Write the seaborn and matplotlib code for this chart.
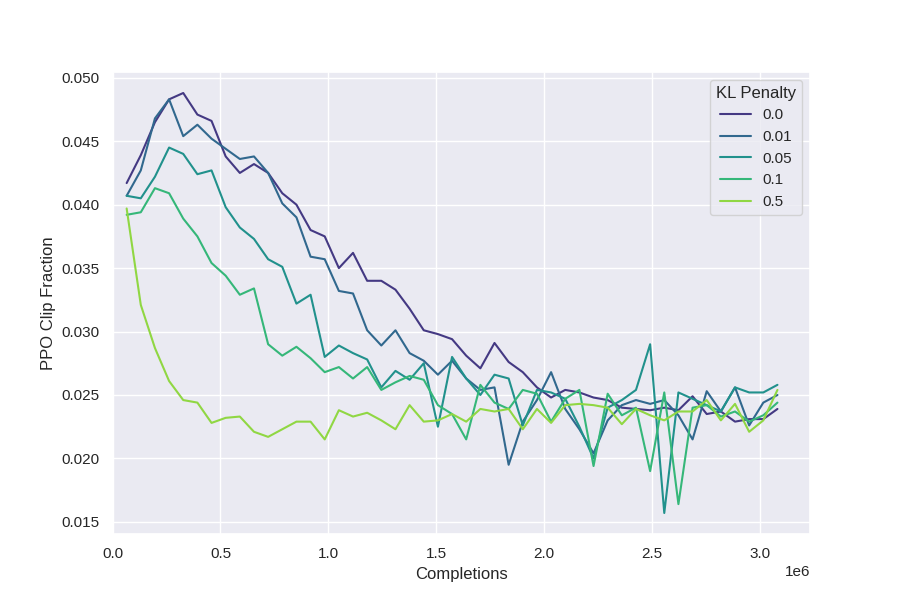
import pandas as pd
import matplotlib.pyplot as plt
import seaborn as sns

# Completions at each logging step
completions = [65536, 131072, 196608, 262144, 327680, 393216, 458752, 524288,
               589824, 655360, 720896, 786432, 851968, 917504, 983040, 1048576,
               1114112, 1179648, 1245184, 1310720, 1376256, 1441792, 1507328,
               1572864, 1638400, 1703936, 1769472, 1835008, 1900544, 1966080,
               2031616, 2097152, 2162688, 2228224, 2293760, 2359296, 2424832,
               2490368, 2555904, 2621440, 2686976, 2752512, 2818048, 2883584,
               2949120, 3014656, 3080192]

# PPO clip fraction per KL penalty
kl_0_0 = [0.0417, 0.0439, 0.0465, 0.0483, 0.0488, 0.0471, 0.0466, 0.0438,
          0.0425, 0.0432, 0.0425, 0.0409, 0.0400, 0.0380, 0.0375, 0.0350,
          0.0362, 0.0340, 0.0340, 0.0333, 0.0318, 0.0301, 0.0298, 0.0294,
          0.0281, 0.0271, 0.0291, 0.0276, 0.0268, 0.0256, 0.0248, 0.0254,
          0.0252, 0.0248, 0.0246, 0.0240, 0.0239, 0.0238, 0.0240, 0.0238,
          0.0249, 0.0235, 0.0237, 0.0229, 0.0231, 0.0231, 0.0239]
kl_0_01 = [0.0407, 0.0427, 0.0468, 0.0483, 0.0454, 0.0463, 0.0452, 0.0444,
           0.0436, 0.0438, 0.0425, 0.0401, 0.0390, 0.0359, 0.0357, 0.0332,
           0.0330, 0.0301, 0.0289, 0.0301, 0.0283, 0.0277, 0.0266, 0.0277,
           0.0263, 0.0254, 0.0256, 0.0195, 0.0229, 0.0246, 0.0268, 0.0239,
           0.0223, 0.0204, 0.0230, 0.0242, 0.0246, 0.0243, 0.0246, 0.0234,
           0.0215, 0.0253, 0.0237, 0.0256, 0.0226, 0.0244, 0.0250]
kl_0_05 = [0.0407, 0.0405, 0.0422, 0.0445, 0.0440, 0.0424, 0.0427, 0.0398,
           0.0382, 0.0373, 0.0357, 0.0351, 0.0322, 0.0329, 0.0280, 0.0289,
           0.0283, 0.0278, 0.0256, 0.0269, 0.0262, 0.0275, 0.0225, 0.0280,
           0.0263, 0.0250, 0.0266, 0.0263, 0.0226, 0.0254, 0.0252, 0.0247,
           0.0225, 0.0200, 0.0240, 0.0246, 0.0254, 0.0290, 0.0157, 0.0252,
           0.0247, 0.0242, 0.0237, 0.0256, 0.0252, 0.0252, 0.0258]
kl_0_1 = [0.0392, 0.0394, 0.0413, 0.0409, 0.0389, 0.0375, 0.0354, 0.0344,
          0.0329, 0.0334, 0.0290, 0.0281, 0.0288, 0.0279, 0.0268, 0.0272,
          0.0263, 0.0272, 0.0254, 0.0260, 0.0265, 0.0262, 0.0242, 0.0235,
          0.0215, 0.0258, 0.0244, 0.0239, 0.0254, 0.0251, 0.0229, 0.0247,
          0.0254, 0.0194, 0.0251, 0.0234, 0.0240, 0.0190, 0.0252, 0.0164,
          0.0240, 0.0242, 0.0233, 0.0237, 0.0229, 0.0234, 0.0244]
kl_0_5 = [0.0397, 0.0321, 0.0287, 0.0261, 0.0246, 0.0244, 0.0228, 0.0232,
          0.0233, 0.0221, 0.0217, 0.0223, 0.0229, 0.0229, 0.0215, 0.0238,
          0.0233, 0.0236, 0.0230, 0.0223, 0.0242, 0.0229, 0.0230, 0.0235,
          0.0229, 0.0239, 0.0237, 0.0239, 0.0223, 0.0239, 0.0228, 0.0242,
          0.0243, 0.0242, 0.0240, 0.0227, 0.0239, 0.0234, 0.0230, 0.0237,
          0.0237, 0.0246, 0.0230, 0.0243, 0.0221, 0.0230, 0.0254]

penalties = ["0.0", "0.01", "0.05", "0.1", "0.5"]
series = [kl_0_0, kl_0_01, kl_0_05, kl_0_1, kl_0_5]

# Long-form table for seaborn
frames = []
for name, vals in zip(penalties, series):
    frames.append(pd.DataFrame({"Completions": completions,
                                "PPO Clip Fraction": vals,
                                "KL Penalty": name}))
df = pd.concat(frames, ignore_index=True)

sns.set_theme(style="darkgrid")
plt.rcParams["font.family"] = ["Liberation Sans", "DejaVu Sans"]

plt.figure(figsize=(9, 6), dpi=100)
ax = sns.lineplot(data=df, x="Completions", y="PPO Clip Fraction",
                  hue="KL Penalty", hue_order=penalties, palette="viridis")
ax.set_xlim(left=0)
ax.legend(title="KL Penalty", loc="upper right")
plt.savefig("out.png", dpi=100)
